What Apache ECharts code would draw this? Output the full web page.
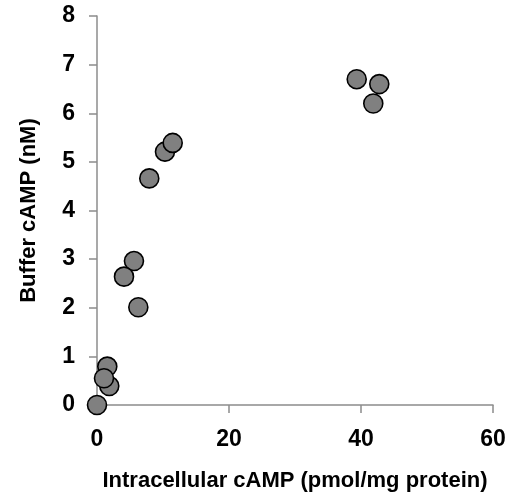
<!DOCTYPE html>
<html>
<head>
<meta charset="utf-8">
<script src="https://cdn.jsdelivr.net/npm/echarts@6/dist/echarts.min.js"></script>
<style>
html,body{margin:0;padding:0;background:#fff;}
#chart{width:519px;height:502px;}
</style>
</head>
<body>
<div id="chart"></div>
<script>
const xTitle = 'Intracellular cAMP (pmol/mg protein)';
const yTitle = 'Buffer cAMP (nM)';
const intracellular = [0, 1.86, 1.56, 1.06, 5.6, 4.09, 6.26, 7.92, 10.3, 11.47, 39.35, 41.86, 42.77];
const buffer = [0, 0.39, 0.79, 0.55, 2.96, 2.64, 2.01, 4.66, 5.21, 5.39, 6.70, 6.20, 6.60];

const points = intracellular.map((x, i) => [x, buffer[i]]);
const font = 'Liberation Sans, Arial, sans-serif';
const axisColor = '#8c8c8c';

const chart = echarts.init(document.getElementById('chart'), null, {renderer: 'canvas'});
chart.setOption({
  animation: false,
  backgroundColor: '#fff',
  grid: {left: 97, right: 26, top: 16, bottom: 97, containLabel: false},
  xAxis: {
    type: 'value', min: 0, max: 60, interval: 20,
    name: xTitle, nameLocation: 'middle', nameGap: 65,
    nameTextStyle: {color: '#000', fontFamily: font, fontSize: 22, fontWeight: 'bold'},
    axisLine: {show: true, lineStyle: {color: axisColor, width: 1.5}},
    axisTick: {show: true, length: 8, lineStyle: {color: axisColor, width: 1.5}},
    axisLabel: {color: '#000', fontFamily: font, fontSize: 23, fontWeight: 'bold', margin: 23},
    splitLine: {show: false}
  },
  yAxis: {
    type: 'value', min: 0, max: 8, interval: 1,
    name: yTitle, nameLocation: 'middle', nameGap: 57, nameRotate: 90,
    nameTextStyle: {color: '#000', fontFamily: font, fontSize: 22, fontWeight: 'bold'},
    axisLine: {show: true, lineStyle: {color: axisColor, width: 1.5}},
    axisTick: {show: true, length: 8, lineStyle: {color: axisColor, width: 1.5}},
    axisLabel: {color: '#000', fontFamily: font, fontSize: 23, fontWeight: 'bold', margin: 22},
    splitLine: {show: false}
  },
  series: [{
    type: 'scatter',
    data: points,
    symbol: 'circle',
    symbolSize: 19,
    itemStyle: {color: '#808080', borderColor: '#000', borderWidth: 1.6, opacity: 1}
  }]
});
</script>
</body>
</html>
